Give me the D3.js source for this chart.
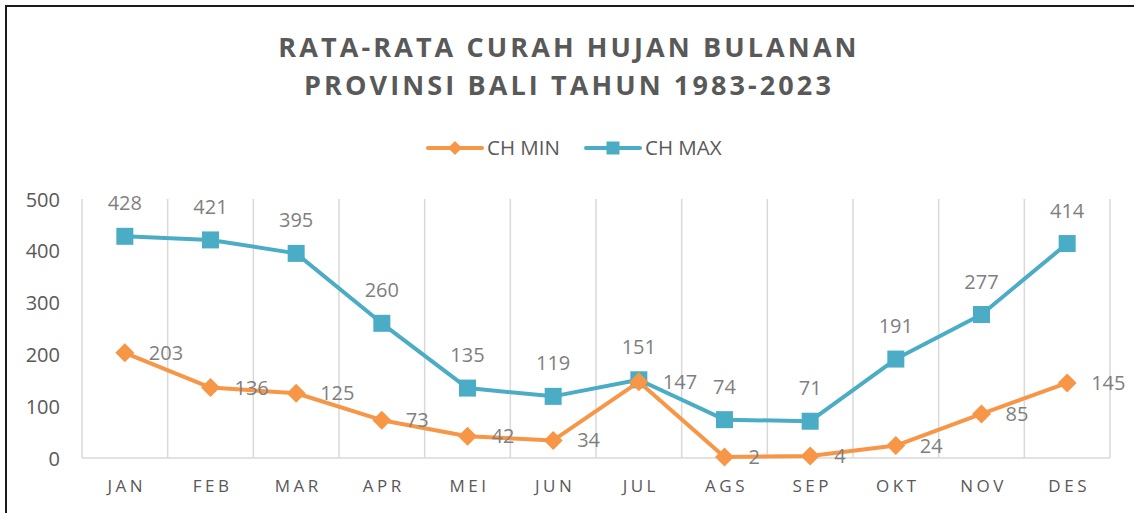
<!DOCTYPE html>
<html><head><meta charset="utf-8">
<script src="https://cdn.jsdelivr.net/npm/d3@7/dist/d3.min.js"></script>
<style>
html,body{margin:0;padding:0;background:#fff;}
svg{display:block;font-family:"Open Sans",sans-serif;}
</style></head>
<body><svg id="c" width="1134" height="513"></svg>
<script>
const months = ["JAN","FEB","MAR","APR","MEI","JUN","JUL","AGS","SEP","OKT","NOV","DES"];
const chMin = [203,136,125,73,42,34,147,2,4,24,85,145];
const chMax = [428,421,395,260,135,119,151,74,71,191,277,414];
const yTicks = [0,100,200,300,400,500];
const titleLines = ["RATA-RATA CURAH HUJAN BULANAN","PROVINSI BALI TAHUN 1983-2023"];
const seriesNames = ["CH MIN","CH MAX"];

const svg = d3.select("#c");
const W = 1134, H = 513;
const colMin = "#F79646", colMax = "#4BACC6";
const grid = "#d9d9d9";

// frame
svg.append("rect").attr("x",6).attr("y",6).attr("width",W+20).attr("height",H+20)
  .attr("fill","none").attr("stroke","#1a1a1a").attr("stroke-width",2);

// title
const tg = svg.append("g");
titleLines.forEach((t,i)=>{
  tg.append("text").attr("x",569).attr("y",57+i*38).attr("text-anchor","middle")
    .attr("font-size",27).attr("font-weight",700).attr("fill","#595959")
    .attr("letter-spacing","3.1px").text(t);
});

const x = d3.scaleBand().domain(months).range([82,1110]).paddingInner(0).paddingOuter(0);
const y = d3.scaleLinear().domain([0,500]).range([458,199]);
const cx = d => x(d)+x.bandwidth()/2;

// vertical gridlines
const bounds = months.map(m=>x(m)).concat([1110]);
svg.append("g").selectAll("line").data(bounds).join("line")
  .attr("x1",d=>d).attr("x2",d=>d).attr("y1",y(500)).attr("y2",y(0))
  .attr("stroke",grid).attr("stroke-width",1.5);
svg.append("line").attr("x1",82).attr("x2",1110).attr("y1",y(0)).attr("y2",y(0))
  .attr("stroke",grid).attr("stroke-width",1.5);

// y axis labels
const yAxis = d3.axisLeft(y).tickValues(yTicks).tickSize(0).tickPadding(0);
const ya = svg.append("g").attr("transform","translate(60,0)").call(yAxis);
ya.select(".domain").remove();
ya.selectAll("text").attr("font-size",20).attr("fill","#595959").attr("font-family","Open Sans, sans-serif").attr("dy","0.35em");

// x axis labels
const xAxis = d3.axisBottom(x).tickSize(0).tickPadding(0);
const xa = svg.append("g").attr("transform","translate(2,479)").call(xAxis);
xa.select(".domain").remove();
xa.selectAll("text").attr("font-size",17).attr("fill","#595959").attr("font-family","Open Sans, sans-serif")
  .attr("letter-spacing","3.5px").attr("dy","0.75em");

const line = d3.line().x((d,i)=>cx(months[i])).y(d=>y(d));

// CH MAX
svg.append("path").datum(chMax).attr("d",line).attr("fill","none")
  .attr("stroke",colMax).attr("stroke-width",4).attr("stroke-linejoin","round");
svg.append("g").selectAll("rect").data(chMax).join("rect")
  .attr("x",(d,i)=>cx(months[i])-8.5).attr("y",d=>y(d)-8.5).attr("width",17).attr("height",17)
  .attr("fill",colMax);
// CH MIN
svg.append("path").datum(chMin).attr("d",line).attr("fill","none")
  .attr("stroke",colMin).attr("stroke-width",4).attr("stroke-linejoin","round");
svg.append("g").selectAll("path.dm").data(chMin).join("path")
  .attr("d",(d,i)=>{const px=cx(months[i]),py=y(d),r=9.5;return `M${px},${py-r}L${px+r},${py}L${px},${py+r}L${px-r},${py}Z`;})
  .attr("fill",colMin);

// data labels
svg.append("g").selectAll("text").data(chMax).join("text")
  .attr("x",(d,i)=>cx(months[i])).attr("y",d=>y(d)-26).attr("text-anchor","middle")
  .attr("font-size",20).attr("fill","#7f7f7f").text(d=>d);
svg.append("g").selectAll("text").data(chMin).join("text")
  .attr("x",(d,i)=>cx(months[i])+24).attr("y",d=>y(d)).attr("dy","0.35em")
  .attr("font-size",20).attr("fill","#7f7f7f").text(d=>d);

// legend
const lg = svg.append("g").attr("transform","translate(0,148)");
const items = [{n:seriesNames[0],c:colMin,x0:428,tx:487,shape:"d"},{n:seriesNames[1],c:colMax,x0:586,tx:645,shape:"s"}];
items.forEach(it=>{
  lg.append("line").attr("x1",it.x0).attr("x2",it.x0+54).attr("y1",0).attr("y2",0)
    .attr("stroke",it.c).attr("stroke-width",4).attr("stroke-linecap","round");
  const mx = it.x0+27;
  if(it.shape==="d"){
    lg.append("path").attr("d",`M${mx},-7L${mx+7},0L${mx},7L${mx-7},0Z`).attr("fill",it.c);
  } else {
    lg.append("rect").attr("x",mx-6.5).attr("y",-6.5).attr("width",13).attr("height",13).attr("fill",it.c);
  }
  lg.append("text").attr("x",it.tx).attr("y",0).attr("dy","0.35em").attr("font-size",20.5)
    .attr("fill","#595959").text(it.n);
});
</script></body></html>
